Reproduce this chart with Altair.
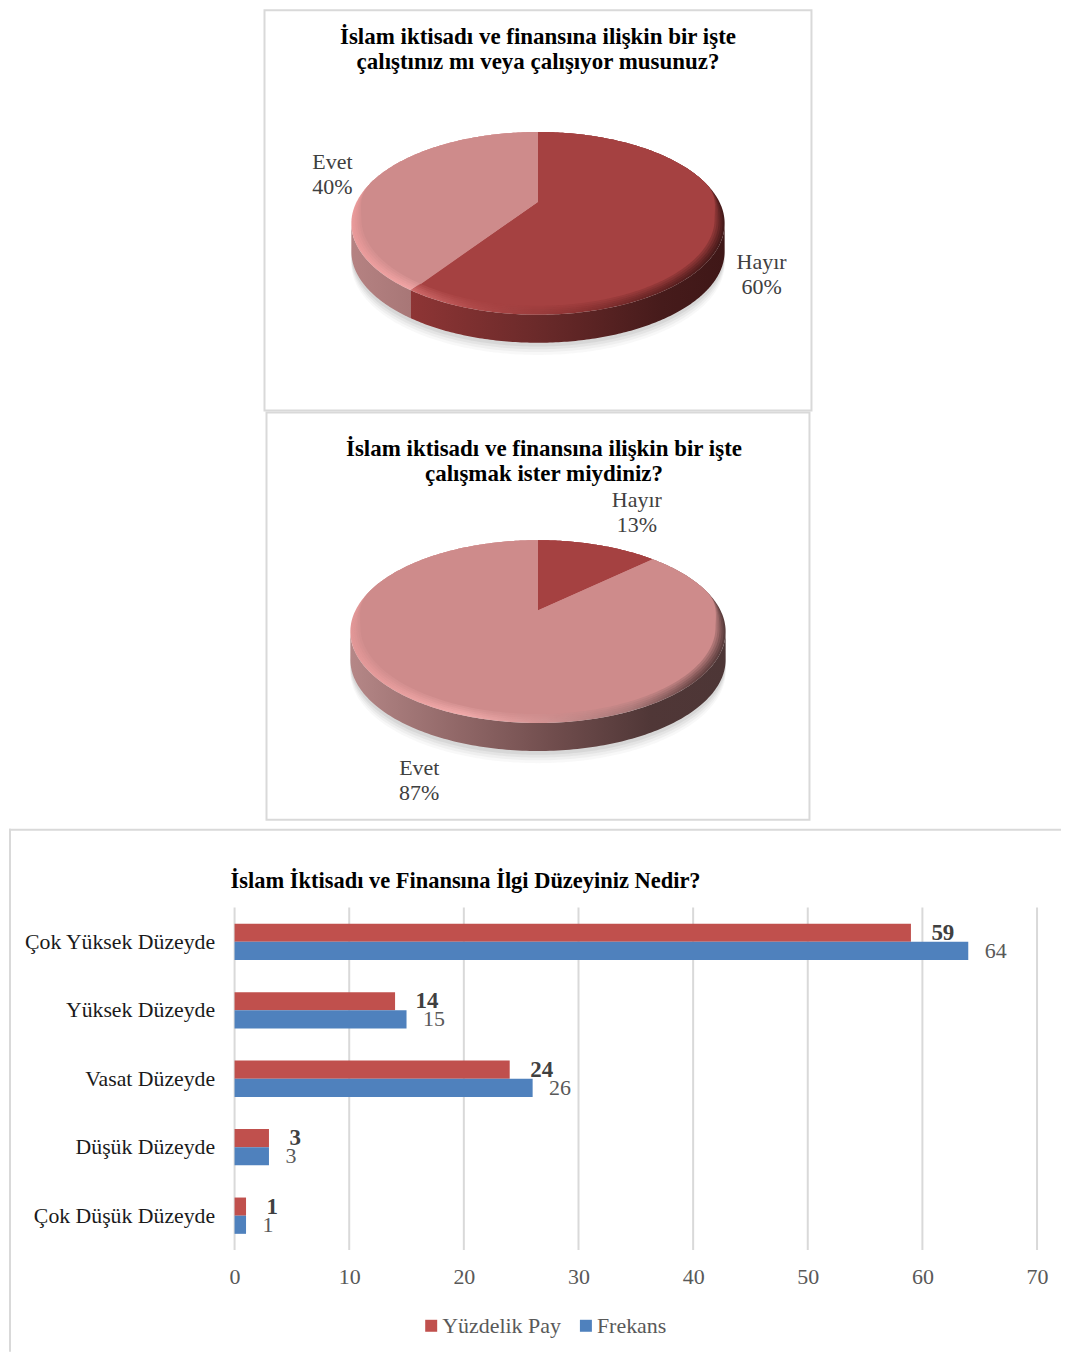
import math
import altair as alt
import pandas as pd

FONT = "Liberation Serif"

PIE1_TITLE = "İslam iktisadı ve finansına ilişkin bir işte\nçalıştınız mı veya çalışıyor musunuz?"
PIE1_SLICES = ["Hayır", "Evet"]
PIE1_SHARES = [59.6, 40.4]
PIE2_TITLE = "İslam iktisadı ve finansına ilişkin bir işte\nçalışmak ister miydiniz?"
PIE2_SLICES = ["Hayır", "Evet"]
PIE2_SHARES = [13.0, 87.0]

BAR_TITLE = "İslam İktisadı ve Finansına İlgi Düzeyiniz Nedir?"
LEVELS = ["Çok Yüksek Düzeyde", "Yüksek Düzeyde", "Vasat Düzeyde", "Düşük Düzeyde", "Çok Düşük Düzeyde"]
PERCENT = [59, 14, 24, 3, 1]
FREQ = [64, 15, 26, 3, 1]
TICKS = [0, 10, 20, 30, 40, 50, 60, 70]
SERIES = ["Yüzdelik Pay", "Frekans"]

DARK = "#A54141"
PINK = "#CE8B8B"

OUTER = (0.972, 0.4626, 0.235)
INNER = (0.928, 0.4476, 0.1955)
DEPTH = 0.150
W3 = 1054
H3 = 524


def proj(t, m):
    a, b, k = m
    u, v = math.sin(t), math.cos(t)
    d = 1 + k * v
    return a * u / d, b * v / d


def blend(t, w):
    # the bevel is a crescent along the near edge: none at the far edge
    c = math.cos(t)
    s = min(1.0, max(0.0, (0.25 - c) / 0.45))
    s = s * s * (3 - 2 * s) * w
    ox, oy = proj(t, OUTER)
    ix, iy = proj(t, INNER)
    return ox + (ix - ox) * s, oy + (iy - oy) * s


def wedge(t0, t1, w=0.0):
    n = max(8, int((t1 - t0) * 60))
    pts = [(0.0, 0.0)] + [blend(t0 + (t1 - t0) * i / n, w) for i in range(n + 1)] + [(0.0, 0.0)]
    return pd.DataFrame({"x": [p[0] for p in pts], "y": [p[1] for p in pts], "i": range(len(pts))})


def grad(stops):
    return alt.LinearGradient(
        gradient="linear",
        stops=[alt.GradientStop(color=c, offset=o) for o, c in stops],
        x1=0, x2=1, y1=0, y2=0,
    )


def pie(shares, colors, rims, bands, title, title_x, labels, w_x, w_y, height, frame):
    total = sum(shares)
    xs = alt.Scale(domain=[-1, 1], range=list(w_x))
    ys = alt.Scale(domain=[-1, 1], range=list(w_y))
    X = alt.X("x:Q", scale=xs, axis=None)
    Y = alt.Y("y:Q", scale=ys, axis=None)
    one = pd.DataFrame({"a": [0]})
    layers = []

    fx0, fx1, fy0, fy1 = frame
    layers.append(alt.Chart(one).mark_rect(filled=False, stroke="#d9d9d9", strokeWidth=2).encode(
        x=alt.value(fx0), x2=alt.value(fx1), y=alt.value(fy0), y2=alt.value(fy1)))

    whole = wedge(0, 2 * math.pi)
    for d, op in [(0.215, 0.05), (0.2, 0.07), (0.185, 0.09), (0.17, 0.12)]:
        s = whole.copy()
        s["y"] = s["y"] - d
        layers.append(alt.Chart(s).mark_line(fill="#7f7f7f", fillOpacity=op, strokeOpacity=0).encode(
            x=X, y=Y, order="i:Q"))

    tr = math.acos(-OUTER[2])
    tl = 2 * math.pi - tr
    t = 0.0
    spans = []
    for sh in shares:
        spans.append((t, t + 2 * math.pi * sh / total))
        t = spans[-1][1]

    for (t0, t1), band in zip(spans, bands):
        lo, hi = max(t0, tr), min(t1, tl)
        if hi <= lo:
            continue
        n = 160
        pts = [proj(lo + (hi - lo) * i / n, OUTER) for i in range(n + 1)]
        df = pd.DataFrame({"x": [p[0] for p in pts], "y": [p[1] for p in pts]})
        df["y2"] = df["y"] - DEPTH
        layers.append(alt.Chart(df).mark_area(color=grad(band)).encode(
            x=X, y=Y, y2="y2:Q"))

    for (t0, t1), rim in zip(spans, rims):
        layers.append(alt.Chart(wedge(t0, t1)).mark_line(fill=grad(rim), strokeOpacity=0).encode(
            x=X, y=Y, order="i:Q"))
    for w, op in [(0.2, 0.15), (0.4, 0.2), (0.6, 0.3), (0.8, 0.4), (1.0, 1.0)]:
        for (t0, t1), col in zip(spans, colors):
            layers.append(alt.Chart(wedge(t0, t1, w)).mark_line(fill=col, fillOpacity=op, strokeOpacity=0).encode(
                x=X, y=Y, order="i:Q"))

    layers.append(alt.Chart(pd.DataFrame({"t": [title]})).mark_text(
        font=FONT, fontSize=23, fontWeight="bold", color="#000000", align="center", baseline="middle",
        lineBreak="\n", lineHeight=25).encode(
        x=alt.value(title_x), y=alt.value(labels["title_y"]), text="t:N"))
    for txt, lx, ly in labels["items"]:
        layers.append(alt.Chart(pd.DataFrame({"t": [txt]})).mark_text(
            font=FONT, fontSize=22, color="#404040", align="center", baseline="middle",
            lineBreak="\n", lineHeight=25).encode(
            x=alt.value(lx), y=alt.value(ly), text="t:N"))
    return alt.layer(*layers).properties(width=W3, height=height).resolve_scale(x="shared", y="shared")


def pct(name, slices, shares):
    v = shares[slices.index(name)]
    return f"{name}\n{round(v)}%"


pie1 = pie(
    PIE1_SHARES, [DARK, PINK],
    [[(0, "#cf6a6a"), (0.2, "#b04a4a"), (0.55, "#8a3232"), (0.85, "#5a2020"), (1, "#451a1a")],
     [(0, "#e99a9a"), (0.3, "#f0a4a4"), (1, "#eeaaaa")]],
    [[(0, "#8e3535"), (0.4, "#6b2a2a"), (0.8, "#461b1b"), (1, "#3f1717")],
     [(0, "#b58282"), (1, "#a87777")]],
    PIE1_TITLE, 530,
    {"title_y": 28, "items": [
        (pct("Evet", PIE1_SLICES, PIE1_SHARES), 324, 153),
        (pct("Hayır", PIE1_SLICES, PIE1_SHARES), 754, 253)]},
    (343, 717), (380, 6), 403, (256, 804, 1, 402),
)

pie2 = pie(
    PIE2_SHARES, [DARK, PINK],
    [[(0, "#a54141"), (1, "#a54141")],
     [(0, "#e29797"), (0.3, "#f0a9a9"), (0.5, "#d49494"), (0.75, "#a87878"), (0.92, "#6a4646"), (1, "#5a3d3d")]],
    [[(0, "#8e3535"), (1, "#4f2020")],
     [(0, "#b58787"), (0.3, "#8f6666"), (0.55, "#6f4c4c"), (0.8, "#503737"), (1, "#4d3636")]],
    PIE2_TITLE, 536,
    {"title_y": 38, "items": [
        (pct("Hayır", PIE2_SLICES, PIE2_SHARES), 629, 89),
        (pct("Evet", PIE2_SLICES, PIE2_SHARES), 411, 357)]},
    (342, 718), (386, 12), 417, (258, 802, 1, 409),
)

rows = []
for lv, p, f in zip(LEVELS, PERCENT, FREQ):
    rows.append({"level": lv, "series": SERIES[0], "value": p})
    rows.append({"level": lv, "series": SERIES[1], "value": f})
bars = pd.DataFrame(rows)

bx = alt.Scale(domain=[0, 70], range=[226, 1030])
by = alt.Scale(domain=LEVELS, range=[79, 422], paddingInner=0.47, paddingOuter=0.235)
yo = alt.Scale(domain=SERIES, paddingInner=0, paddingOuter=0)
one = pd.DataFrame({"a": [0]})

x_axis = alt.Axis(values=TICKS, grid=False, domain=False, ticks=False, title=None, offset=-(H3 - 422),
                  labelFont=FONT, labelFontSize=22, labelColor="#595959", labelPadding=17, labelFlush=False)
BX = alt.X("value:Q", scale=bx, axis=x_axis)
BY = alt.Y("level:N", scale=by, sort=LEVELS, axis=None)
OFF = alt.YOffset("series:N", scale=yo, sort=SERIES)

frame_l = alt.Chart(one).mark_rule(color="#d9d9d9", strokeWidth=2).encode(
    x=alt.value(1), y=alt.value(0), y2=alt.value(H3))
frame_t = alt.Chart(one).mark_rule(color="#d9d9d9", strokeWidth=2).encode(
    x=alt.value(0), x2=alt.value(W3), y=alt.value(1))

grid = alt.Chart(pd.DataFrame({"value": TICKS})).mark_rule(color="#d9d9d9", strokeWidth=2).encode(
    x=BX, y=alt.value(79), y2=alt.value(422))

bar = alt.Chart(bars).mark_bar().encode(
    x=BX, y=BY, yOffset=OFF,
    color=alt.Color("series:N", sort=SERIES,
                    scale=alt.Scale(domain=SERIES, range=["#C0504D", "#4F81BD"]),
                    legend=alt.Legend(
                        orient="none", legendX=412, legendY=1308, direction="horizontal", title=None,
                        symbolType="square", symbolSize=144, symbolStrokeWidth=0,
                        labelFont=FONT, labelFontSize=22, labelColor="#595959",
                        columnPadding=13, labelOffset=0)),
)

t_red = alt.Chart(bars[bars.series == SERIES[0]]).mark_text(
    font=FONT, fontSize=23, fontWeight="bold", color="#404040", align="left", baseline="middle", dx=20.5).encode(
    x=BX, y=BY, yOffset=OFF, text="value:Q")
t_blue = alt.Chart(bars[bars.series == SERIES[1]]).mark_text(
    font=FONT, fontSize=22, color="#595959", align="left", baseline="middle", dx=16.5).encode(
    x=BX, y=BY, yOffset=OFF, text="value:Q")

cat = alt.Chart(pd.DataFrame({"level": LEVELS})).mark_text(
    font=FONT, fontSize=21.8, color="#1a1a1a", align="right", baseline="middle").encode(
    x=alt.value(206.5),
    y=BY, text="level:N")

ttl = alt.Chart(pd.DataFrame({"t": [BAR_TITLE]})).mark_text(
    font=FONT, fontSize=22.5, fontWeight="bold", color="#000000", align="left", baseline="middle").encode(
    x=alt.value(222), y=alt.value(52), text="t:N")

panel3 = alt.layer(frame_l, frame_t, grid, bar, t_red, t_blue, cat, ttl).properties(width=W3, height=H3)

chart = alt.vconcat(pie1, pie2, panel3, spacing=0).properties(padding=0).configure_view(stroke=None)
chart.save("out.html", embed_options={"renderer": "svg", "actions": False})
